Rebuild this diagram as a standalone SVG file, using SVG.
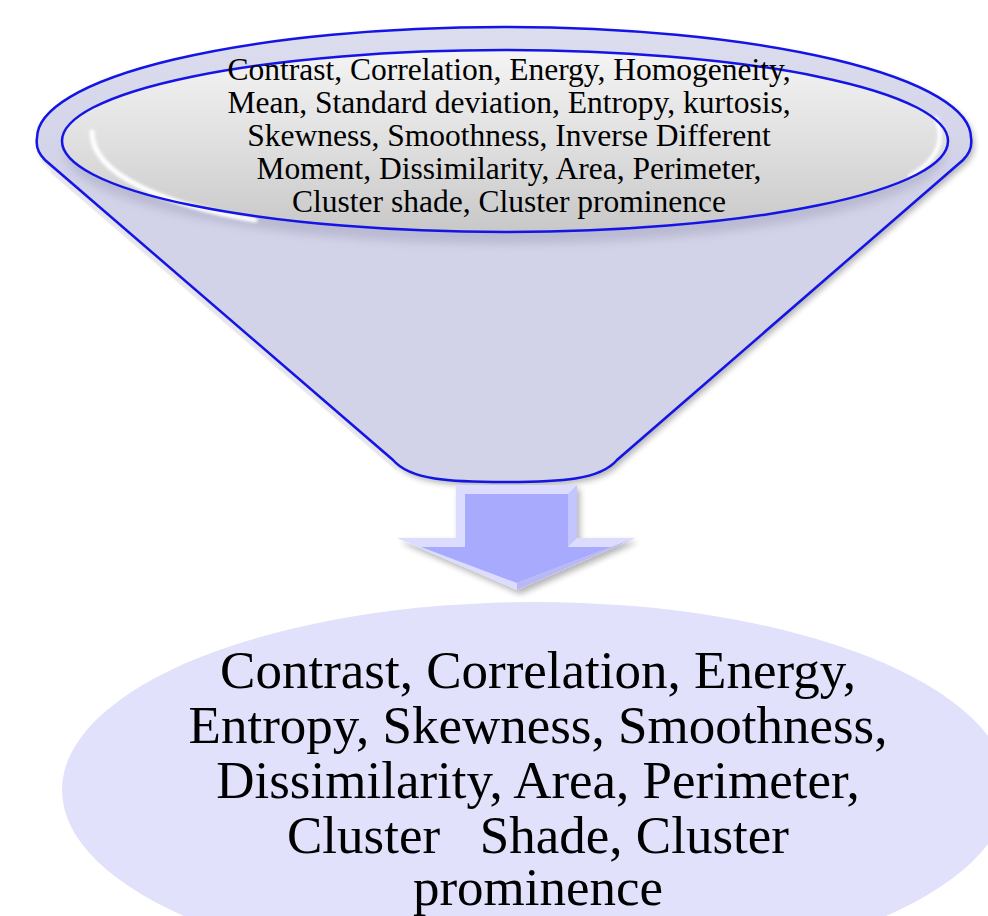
<svg xmlns="http://www.w3.org/2000/svg" width="988" height="916" viewBox="0 0 988 916">
  <defs>
    <style>
      .top-text { font-family: "Liberation Serif", "Times New Roman", serif; font-size: 31.5px; fill: #000; text-anchor: middle; }
      .bot-text { font-family: "Liberation Serif", "Times New Roman", serif; font-size: 53px; fill: #000; text-anchor: middle; white-space: pre; }
      .blue { fill: none; stroke: #1414e6; stroke-width: 2.5; }
    </style>
    <linearGradient id="innerGrad" x1="0" y1="0" x2="0" y2="1">
      <stop offset="0" stop-color="#f4f4f4"/>
      <stop offset="0.5" stop-color="#e0e0e0"/>
      <stop offset="1" stop-color="#c8c8c8"/>
    </linearGradient>
    <linearGradient id="funnelGrad" x1="0" y1="0" x2="0" y2="1">
      <stop offset="0" stop-color="#dcdded"/>
      <stop offset="0.3" stop-color="#d2d3e8"/>
      <stop offset="1" stop-color="#d2d3e8"/>
    </linearGradient>
    <filter id="soft" x="-10%" y="-20%" width="120%" height="140%">
      <feGaussianBlur stdDeviation="5"/>
    </filter>
    <filter id="blur2" x="-10%" y="-20%" width="120%" height="140%">
      <feGaussianBlur stdDeviation="1.5"/>
    </filter>
    <filter id="shadow" x="-20%" y="-20%" width="140%" height="140%">
      <feGaussianBlur in="SourceAlpha" stdDeviation="3"/>
      <feOffset dx="3" dy="4" result="b"/>
      <feComponentTransfer><feFuncA type="linear" slope="0.3"/></feComponentTransfer>
      <feMerge><feMergeNode/><feMergeNode in="SourceGraphic"/></feMerge>
    </filter>
  </defs>

  <rect width="988" height="916" fill="#ffffff"/>

  <g id="result">
    <ellipse cx="535" cy="790" rx="473" ry="188" fill="#e1e1fb"/>
    <text class="bot-text" x="538" y="688">Contrast, Correlation, Energy,</text>
    <text class="bot-text" x="538" y="743">Entropy, Skewness, Smoothness,</text>
    <text class="bot-text" x="538" y="798">Dissimilarity, Area, Perimeter,</text>
    <text class="bot-text" x="538" y="853">Cluster   Shade, Cluster</text>
    <text class="bot-text" x="538" y="905">prominence</text>
  </g>

  <g id="funnel">
    <path d="M 37 138 A 467 111 0 0 1 971 138 Q 973 150 963 160 L 617 460 C 600 480 560 482 505 482 C 450 482 410 480 393 460 L 45 160 Q 35 150 37 138 Z" fill="url(#funnelGrad)" filter="url(#shadow)"/>
    <path d="M 52 170 L 398 468" stroke="#e4e4ea" stroke-width="6" fill="none" opacity="0.8"/>
    <path d="M 37 138 A 467 111 0 0 1 971 138 Q 973 150 963 160 L 617 460 C 600 480 560 482 505 482 C 450 482 410 480 393 460 L 45 160 Q 35 150 37 138 Z" class="blue"/>
    <ellipse cx="505" cy="152" rx="440" ry="92" fill="#a9aac4" opacity="0.6" filter="url(#soft)"/>
    <ellipse cx="505" cy="141" rx="443" ry="91" fill="url(#innerGrad)"/>
    <path d="M 92 132 C 92 175 165 205 255 220" stroke="#ffffff" stroke-width="5" fill="none" stroke-linecap="round" filter="url(#blur2)"/>
    <path d="M 936 118 C 945 140 938 160 910 176" stroke="#ffffff" stroke-width="4" fill="none" stroke-linecap="round" filter="url(#blur2)"/>
    <ellipse cx="505" cy="141" rx="443" ry="91" class="blue"/>
    <text class="top-text" x="509" y="80">Contrast, Correlation, Energy, Homogeneity,</text>
    <text class="top-text" x="509" y="113">Mean, Standard deviation, Entropy, kurtosis,</text>
    <text class="top-text" x="509" y="146">Skewness, Smoothness, Inverse Different</text>
    <text class="top-text" x="509" y="179">Moment, Dissimilarity, Area, Perimeter,</text>
    <text class="top-text" x="509" y="212">Cluster shade, Cluster prominence</text>
  </g>

  <g id="connectors">
    <g filter="url(#shadow)">
      <polygon points="456,485 577,485 577,538 635,538 517,590 397,538 456,538" fill="#dcdcff"/>
      <polygon points="465,494 568,494 568,547 611,547 517,583 421,547 465,547" fill="#a8aafe"/>
      <polygon points="577,485 577,538 568,547 568,494" fill="#c4c5ff"/>
      <polygon points="517,590 635,538 611,547 517,583" fill="#b8b9f4"/>
    </g>
  </g>
</svg>
